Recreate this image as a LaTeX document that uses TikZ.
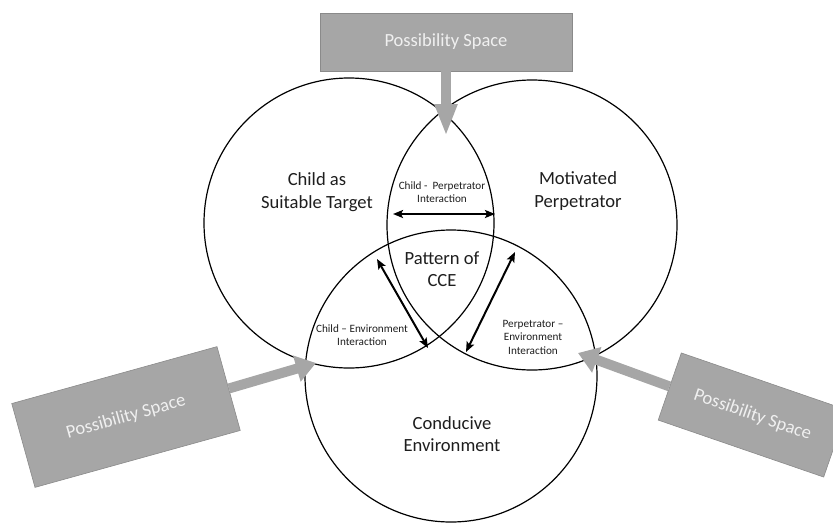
\documentclass[tikz,border=0pt]{standalone}
\usepackage{fontspec}
\setmainfont{Carlito}
\usetikzlibrary{arrows.meta}
\definecolor{boxgray}{HTML}{A6A6A6}
\definecolor{boxedge}{HTML}{8A8A8A}
\definecolor{inktext}{HTML}{1E1E1E}
\begin{document}
\begin{tikzpicture}[x=1pt,y=-1pt,
  ring/.style={circle,draw=black,line width=1.2pt,minimum size=290pt,inner sep=0pt},
  big/.style={font=\fontsize{18.6}{22.5}\selectfont,align=center,text=inktext},
  small/.style={font=\fontsize{11.2}{13.5}\selectfont,align=center,text=inktext},
  psbox/.style={fill=boxgray,draw=boxedge,line width=0.6pt,inner sep=0pt,
    font=\fontsize{18.5}{22}\selectfont,text=white!94!black},
  grayarrow/.style={draw=boxgray,line width=10pt,-{Triangle[width=26pt,length=20pt]}},
  toparrow/.style={draw=boxgray,line width=10pt,-{Triangle[width=21pt,length=32pt]}},
  link/.style={line width=2pt,{Stealth[length=10pt,width=8pt,inset=2pt]}-{Stealth[length=10pt,width=8pt,inset=2pt]}}
]
\useasboundingbox (0,0) rectangle (833,523);

% circles
\node[ring] (cL) at (349,223) {};
\node[ring] (cR) at (532,225) {};
\node[ring,minimum size=292pt] (cB) at (451,376) {};

% labels
\node[big] (tchild) at (317,192) {Child as\\Suitable Target};
\node[big] (tperp) at (578,191) {Motivated\\Perpetrator};
\node[big] (tcce) at (442,269) {Pattern of\\CCE};
\node[big] (tenv) at (452,434) {Conducive\\Environment};
\node[small] (icp) at (442,192) {Child -\ \ Perpetrator\\Interaction};
\node[small] (ice) at (362,335) {Child – Environment\\Interaction};
\node[small] (ipe) at (533,337) {Perpetrator –\\Environment\\Interaction};

% interaction arrows
\coordinate (h1) at (393,214);
\coordinate (h2) at (495,214);
\coordinate (l1) at (377,259);
\coordinate (l2) at (428,348);
\coordinate (r1) at (515,252);
\coordinate (r2) at (466,352);
\draw[link] (h1) -- (h2);
\draw[link] (l1) -- (l2);
\draw[link] (r1) -- (r2);

% possibility space boxes
\node[psbox,minimum width=252pt,minimum height=58pt] (ptop) at (446,42) {Possibility Space};
\node[psbox,minimum width=213pt,minimum height=87pt,rotate=15.5] (pleft) at (126,417) {Possibility Space};
\node[psbox,minimum width=175pt,minimum height=71pt,rotate=-19] (pright) at (752.5,415) {Possibility Space};

\coordinate (ttip) at (446,136);
\coordinate (ltip) at (316,363);
\coordinate (rtip) at (578,353);
\draw[toparrow] (ptop.south) -- (ttip);
\draw[grayarrow] (pleft.east) -- (ltip);
\draw[grayarrow] (pright.west) -- (rtip);
\end{tikzpicture}
\end{document}
